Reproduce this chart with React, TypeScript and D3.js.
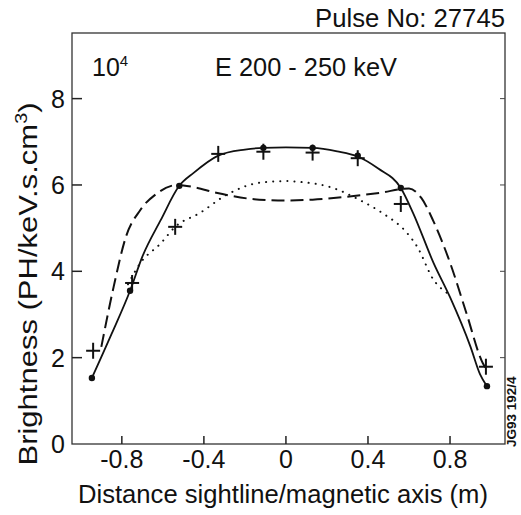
import React from "react";
import * as d3 from "d3";

const xTicks = [-0.8, -0.4, 0, 0.4, 0.8];
const xTickLabels = ["-0.8", "-0.4", "0", "0.4", "0.8"];
const yTicks = [0, 2, 4, 6, 8];
const yTickLabels = ["0", "2", "4", "6", "8"];

// measured points (crosses)
const crossX = [-0.94, -0.75, -0.54, -0.33, -0.11, 0.13, 0.35, 0.56, 0.975];
const crossY = [2.16, 3.73, 5.03, 6.72, 6.77, 6.75, 6.62, 5.56, 1.79];

// model values at sightlines (dots)
const dotX = [-0.946, -0.76, -0.52, -0.11, 0.13, 0.35, 0.56, 0.98];
const dotY = [1.53, 3.55, 5.98, 6.86, 6.86, 6.68, 5.93, 1.34];

// solid curve
const solidX = [-0.946, -0.85, -0.76, -0.7, -0.61, -0.52, -0.45, -0.33, -0.2, -0.11, 0, 0.13, 0.25, 0.35, 0.45, 0.56, 0.62, 0.72, 0.8, 0.9, 0.946, 0.98];
const solidY = [1.53, 2.55, 3.55, 4.34, 5.19, 5.98, 6.28, 6.68, 6.82, 6.86, 6.87, 6.86, 6.78, 6.66, 6.38, 5.93, 5.35, 4.19, 3.4, 2.25, 1.62, 1.34];

// dashed curve
const dashX = [-0.9, -0.84, -0.78, -0.71, -0.63, -0.53, -0.45, -0.34, -0.13, 0, 0.13, 0.28, 0.46, 0.6, 0.66, 0.72, 0.8, 0.88, 0.96, 0.975];
const dashY = [2.25, 3.64, 4.8, 5.42, 5.8, 6.0, 5.95, 5.82, 5.66, 5.64, 5.66, 5.72, 5.82, 5.92, 5.7, 5.15, 4.2, 3.03, 1.87, 1.75];

// dotted curve
const dotLineX = [-0.77, -0.71, -0.61, -0.54, -0.42, -0.29, -0.13, 0, 0.07, 0.23, 0.36, 0.47, 0.59, 0.64, 0.72, 0.785];
const dotLineY = [3.7, 4.19, 4.65, 5.03, 5.35, 5.77, 6.05, 6.09, 6.07, 5.93, 5.65, 5.35, 4.89, 4.57, 3.8, 3.5];

const W = 521;
const H = 515;
const FONT = "'Liberation Sans', Arial, Helvetica, sans-serif";
const INK = "#111";

export default function App() {
  const x = d3.scaleLinear().domain([-1.043, 1.068]).range([72, 505]);
  const y = d3.scaleLinear().domain([0, 9.52]).range([444, 33]);

  const line = d3
    .line<[number, number]>()
    .x((d) => x(d[0]))
    .y((d) => y(d[1]))
    .curve(d3.curveMonotoneX);

  const solid = solidX.map((v, i) => [v, solidY[i]] as [number, number]);
  const dashed = dashX.map((v, i) => [v, dashY[i]] as [number, number]);
  const dotted = dotLineX.map((v, i) => [v, dotLineY[i]] as [number, number]);

  const [x0, x1] = x.range();
  const [yb, yt] = y.range();

  return (
    <svg width={W} height={H} style={{ position: "absolute", left: 0, top: 0 }} fontFamily={FONT}>
      <rect x={0} y={0} width={W} height={H} fill="#fff" />
      {/* frame */}
      <rect x={x0} y={yt} width={x1 - x0} height={yb - yt} fill="none" stroke="#333" strokeWidth={1.3} />
      {/* x ticks */}
      {xTicks.map((t, i) => (
        <g key={"xt" + i}>
          <line x1={x(t)} x2={x(t)} y1={yb} y2={yb - 8} stroke="#222" strokeWidth={1.5} />
          <text x={x(t)} y={468} textAnchor="middle" fontSize={25} fill={INK}>
            {xTickLabels[i]}
          </text>
        </g>
      ))}
      {/* y ticks */}
      {yTicks.map((t, i) => (
        <g key={"yt" + i}>
          {t > 0 && <line x1={x0} x2={x0 + 10} y1={y(t)} y2={y(t)} stroke="#222" strokeWidth={1.5} />}
          {t > 0 && <line x1={x1} x2={x1 - 5} y1={y(t)} y2={y(t)} stroke="#444" strokeWidth={1} />}
          <text x={65} y={y(t)} dy="0.36em" textAnchor="end" fontSize={25} fill={INK}>
            {yTickLabels[i]}
          </text>
        </g>
      ))}
      {/* curves */}
      <path d={line(dotted) || ""} fill="none" stroke={INK} strokeWidth={2} strokeDasharray="0.1 7" strokeLinecap="round" />
      <path d={line(dashed) || ""} fill="none" stroke={INK} strokeWidth={2} strokeDasharray="13 6" />
      <path d={line(solid) || ""} fill="none" stroke={INK} strokeWidth={1.8} />
      {/* dots */}
      {dotX.map((v, i) => (
        <circle key={"d" + i} cx={x(v)} cy={y(dotY[i])} r={3.2} fill={INK} />
      ))}
      {/* crosses */}
      {crossX.map((v, i) => (
        <g key={"c" + i} stroke={INK} strokeWidth={2}>
          <line x1={x(v) - 7} x2={x(v) + 7} y1={y(crossY[i])} y2={y(crossY[i])} />
          <line x1={x(v)} x2={x(v)} y1={y(crossY[i]) - 8} y2={y(crossY[i]) + 8} />
        </g>
      ))}
      {/* annotations */}
      <text x={92} y={76} fontSize={25} fill={INK}>
        10<tspan dy={-10} fontSize={15}>4</tspan>
      </text>
      <text x={215} y={76} fontSize={25} fill={INK} textLength={182} lengthAdjust="spacingAndGlyphs">
        E 200 - 250 keV
      </text>
      <text x={315} y={27} fontSize={25} fill={INK} textLength={190} lengthAdjust="spacingAndGlyphs">
        Pulse No: 27745
      </text>
      <text x={78} y={503} fontSize={25} fill={INK} textLength={410} lengthAdjust="spacingAndGlyphs">
        Distance sightline/magnetic axis (m)
      </text>
      <text transform="translate(37,284) rotate(-90) scale(1.24,1)" textAnchor="middle" fontSize={25} fill={INK}>
        Brightness (PH/keV.s.cm<tspan dy={-10} fontSize={16}>3</tspan>
        <tspan dy={10}>)</tspan>
      </text>
      <text transform="translate(516,447) rotate(-90)" fontSize={13.5} fontWeight="bold" fill={INK}>
        JG93 192/4
      </text>
    </svg>
  );
}
